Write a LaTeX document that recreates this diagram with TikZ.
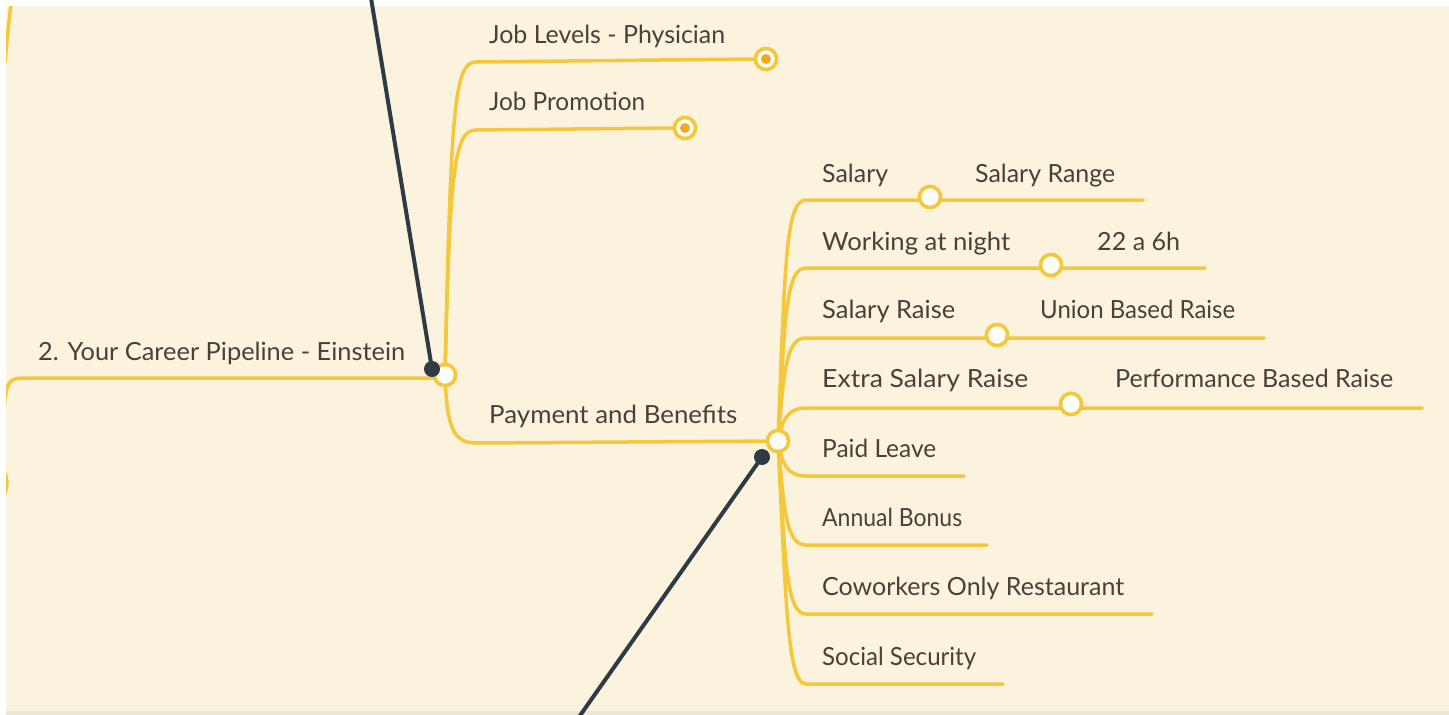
\documentclass[tikz,border=0pt]{standalone}
\usepackage{fontspec}
\setmainfont{Lato}
\usepackage{graphicx}
\definecolor{bgc}{HTML}{FBF3DE}
\definecolor{yel}{HTML}{F5C73A}
\definecolor{darkc}{HTML}{2E3A46}
\definecolor{txtc}{HTML}{4A4136}
\definecolor{orng}{HTML}{F2A91A}
\definecolor{grayb}{HTML}{ECE6D6}
\newcommand{\tw}[2]{\resizebox{#1pt}{\height}{#2}}
\begin{document}
\begin{tikzpicture}[x=1pt,y=-1pt,
  branch/.style={draw=yel, line width=3.5pt, line cap=round},
  hub/.style={circle, draw=yel, line width=3.5pt, fill=white, minimum size=21pt, inner sep=0pt},
  endc/.style={hub, path picture={\fill[orng] (path picture bounding box.center) circle (5pt);}},
  lbl/.style={anchor=base west, text=txtc, font=\fontsize{25}{28}\selectfont, inner sep=0pt},
  pin/.style={draw=darkc, line width=4pt},
  pindot/.style={circle, fill=darkc, minimum size=16pt, inner sep=0pt}]
\useasboundingbox (0,0) rectangle (1449,715);
\fill[white] (0,0) rectangle (1449,715);
\fill[bgc] (6,6) rectangle (1449,711);
\fill[grayb] (6,711) rectangle (1449,715);

\begin{scope}
\clip (6,6) rectangle (1449,711);
\draw[branch] (11,4) .. controls (8,30) .. (5,62);
\draw[branch] (4,470) .. controls (8,483) .. (4,496);
\end{scope}

% nodes
\node[hub] (hub1) at (445,375) {};
\node[hub] (hub2) at (778,441) {};
\node[endc] (jlc) at (766,59) {};
\node[endc] (jpc) at (685,128) {};
\node[hub] (salc) at (930,197) {};
\node[hub] (nitc) at (1051,265) {};
\node[hub] (raic) at (997,335) {};
\node[hub] (extc) at (1071,404) {};

\coordinate (lft) at (4,410);
\coordinate (mainE) at (440,378);
\coordinate (salE) at (1143,200);
\coordinate (nitE) at (1205,268);
\coordinate (raiE) at (1264,338);
\coordinate (extE) at (1422,408);
\coordinate (paiE) at (964,476);
\coordinate (annE) at (987,545);
\coordinate (cowE) at (1152,614);
\coordinate (socE) at (1003,684);

% branches
\begin{scope}
\clip (6,6) rectangle (1449,711);
\draw[branch] (lft) .. controls (6,385) and (8,378) .. (22,378) -- (mainE);
\end{scope}
\draw[branch] (hub1.center) .. controls (451,110) and (454,62) .. (476,62) -- (jlc.west);
\draw[branch] (hub1.center) .. controls (450,170) and (454,130) .. (476,130) -- (jpc.west);
\draw[branch] (hub1.center) .. controls (447,425) and (452,443) .. (476,443) -- (hub2.center);

\draw[branch] (hub2.center) .. controls (785,260) and (786,200) .. (806,200) -- (salE);
\draw[branch] (hub2.center) .. controls (785,315) and (786,268) .. (806,268) -- (nitE);
\draw[branch] (hub2.center) .. controls (784,370) and (786,338) .. (806,338) -- (raiE);
\draw[branch] (hub2.center) .. controls (782,420) and (788,408) .. (806,408) -- (extE);
\draw[branch] (hub2.center) .. controls (782,465) and (788,476) .. (806,476) -- (paiE);
\draw[branch] (hub2.center) .. controls (784,510) and (786,545) .. (806,545) -- (annE);
\draw[branch] (hub2.center) .. controls (785,560) and (786,614) .. (806,614) -- (cowE);
\draw[branch] (hub2.center) .. controls (786,600) and (787,684) .. (806,684) -- (socE);

% redraw circles on top
\node[hub] at (hub1) {};
\node[hub] at (hub2) {};
\node[endc] at (jlc) {};
\node[endc] at (jpc) {};
\node[hub] at (salc) {};
\node[hub] at (nitc) {};
\node[hub] at (raic) {};
\node[hub] at (extc) {};

% labels
\node[lbl] (tMain) at (38,360) {\tw{367}{2. Your Career Pipeline - Einstein}};
\node[lbl] (tJL) at (489,43) {\tw{236}{Job Levels - Physician}};
\node[lbl] (tJP) at (489,110) {\tw{156}{Job Promotion}};
\node[lbl] (tPB) at (489,423) {\tw{248}{Payment and Benefits}};
\node[lbl] (tSal) at (822,182) {\tw{66}{Salary}};
\node[lbl] (tSR) at (975,182) {\tw{140}{Salary Range}};
\node[lbl] (tWN) at (822,250) {\tw{188}{Working at night}};
\node[lbl] (t22) at (1097,250) {\tw{83}{22 a 6h}};
\node[lbl] (tRai) at (822,318) {\tw{133}{Salary Raise}};
\node[lbl] (tUni) at (1040,318) {\tw{195}{Union Based Raise}};
\node[lbl] (tExt) at (822,387) {\tw{206}{Extra Salary Raise}};
\node[lbl] (tPerf) at (1115,387) {\tw{278}{Performance Based Raise}};
\node[lbl] (tPai) at (822,457) {\tw{114}{Paid Leave}};
\node[lbl] (tAnn) at (822,526) {\tw{140}{Annual Bonus}};
\node[lbl] (tCow) at (822,595) {\tw{302}{Coworkers Only Restaurant}};
\node[lbl] (tSoc) at (822,665) {\tw{154}{Social Security}};

% dark pins
\coordinate (pinTop) at (371,-2);
\coordinate (pinBot) at (579,717);
\node[pindot] (d1) at (432,369) {};
\node[pindot] (d2) at (762,457) {};
\draw[pin] (pinTop) -- (d1.center);
\draw[pin] (pinBot) -- (d2.center);
\end{tikzpicture}
\end{document}
